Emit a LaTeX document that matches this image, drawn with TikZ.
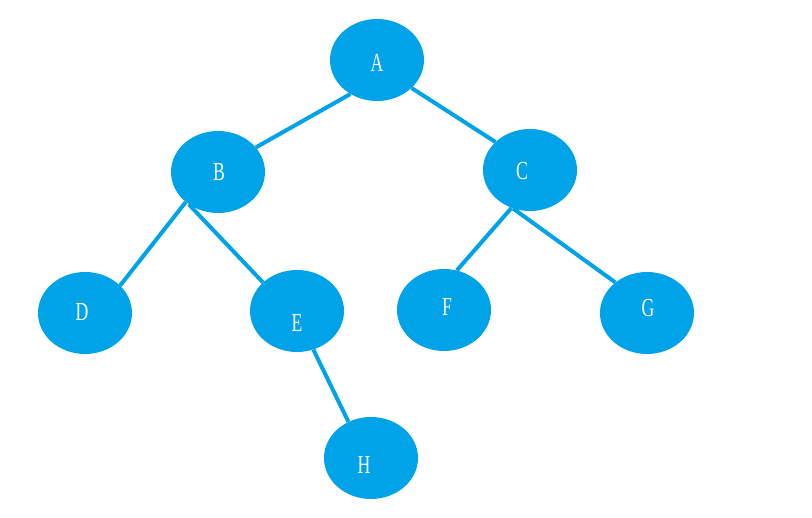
\documentclass[tikz,border=0pt]{standalone}
\usepackage{fontspec}
\setmainfont{Liberation Serif}
\usetikzlibrary{shapes.geometric}
\definecolor{treeblue}{RGB}{0,162,232}
\newcommand{\nlbl}[1]{\scalebox{0.68}[1]{#1}}
\tikzset{
  treenode/.style={ellipse, fill=treeblue, draw=none, minimum width=94pt, minimum height=82pt, inner sep=0pt},
  treelabel/.style={text=white, font=\fontsize{26}{26}\selectfont},
  treeedge/.style={draw=treeblue, line width=4pt}
}
\begin{document}
\begin{tikzpicture}[x=1pt,y=-1pt]
\useasboundingbox (0,0) rectangle (812,518);
\node[treenode] (A) at (377,60) {};
\node[treenode] (B) at (218,172) {};
\node[treenode] (C) at (530,170) {};
\node[treenode] (D) at (85,313) {};
\node[treenode] (E) at (297,311) {};
\node[treenode] (F) at (444,310) {};
\node[treenode] (G) at (647,313) {};
\node[treenode] (H) at (371,458) {};
\draw[treeedge] (A.232) -- (B.33);
\draw[treeedge] (A.321) -- (C.141);
\draw[treeedge] (B.223) -- (D.38);
\draw[treeedge] (B.228) -- (E.140);
\draw[treeedge] (C.244) -- (F.72);
\draw[treeedge] (C.246) -- (G.136);
\draw[treeedge] (E.293) -- (H.122);
\node[treelabel] at ([shift={(0,3)}]A.center) {\nlbl{A}};
\node[treelabel] at ([shift={(1,0)}]B.center) {\nlbl{B}};
\node[treelabel] at ([shift={(-8,1)}]C.center) {\nlbl{C}};
\node[treelabel] at ([shift={(-3,-1)}]D.center) {\nlbl{D}};
\node[treelabel] at ([shift={(0,12)}]E.center) {\nlbl{E}};
\node[treelabel] at ([shift={(3,-3)}]F.center) {\nlbl{F}};
\node[treelabel] at ([shift={(1,-5)}]G.center) {\nlbl{G}};
\node[treelabel] at ([shift={(-7,7)}]H.center) {\nlbl{H}};
\end{tikzpicture}
\end{document}
